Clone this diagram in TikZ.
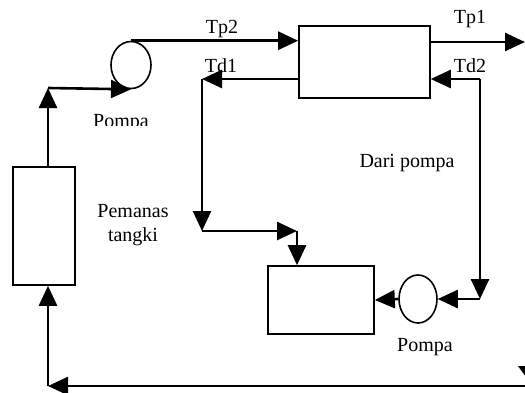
\documentclass[tikz,border=0pt]{standalone}
\usepackage{fontspec}
\setmainfont{Liberation Serif}
\usetikzlibrary{arrows.meta,shapes.geometric}
\tikzset{
  box/.style={draw,line width=1.6pt,rectangle,inner sep=0pt},
  pumpshape/.style={draw,line width=1.6pt,ellipse,inner sep=0pt},
  flow/.style={line width=2.6pt,-{Triangle[length=20pt,width=18pt]}},
  lbl/.style={font=\fontsize{20}{24}\selectfont,inner sep=0pt,anchor=base}
}
\begin{document}
\begin{tikzpicture}[x=1pt,y=-1pt]
\clip (0,0) rectangle (525,392);
\fill[white] (0,0) rectangle (525,392);
% nodes
\node[box,minimum width=131pt,minimum height=72pt] (hx) at (364.5,62) {};
\node[box,minimum width=106pt,minimum height=68pt] (tank) at (321,300) {};
\node[box,minimum width=62pt,minimum height=118pt] (heater) at (44,226) {};
\node[pumpshape,minimum width=40pt,minimum height=47pt] (p1) at (131,65) {};
\node[pumpshape,minimum width=38pt,minimum height=48pt] (p2) at (418,299) {};
% corner coordinates
\coordinate (tpend) at (525,42);
\coordinate (c2) at (480,79);
\coordinate (c3) at (480,299);
\coordinate (d1) at (202,79);
\coordinate (d2) at (202,231);
\coordinate (d3) at (297,231);
\coordinate (h1) at (48,88);
\coordinate (b1) at (530,386);
\coordinate (b2) at (48,386);
% connectors
\draw[flow] (p1.north) -- (p1.north -| hx.west);
\draw[flow] (hx.east |- tpend) -- (tpend);
\draw[flow] (c2) -- (c2 -| hx.east);
\draw[flow] (c2) -- (c3);
\draw[flow] (c3) -- (p2.east);
\draw[flow] (p2.west) -- (tank.east);
\draw[flow] (d1 -| hx.west) -- (d1);
\draw[flow] (d1) -- (d2);
\draw[flow] (d2) -- (d3);
\draw[flow] (d3) -- (d3 |- tank.north);
\draw[flow] (h1 |- heater.north) -- (h1);
\draw[flow] (h1) -- (p1.south);
\draw[flow] (b1) -- (b2);
\draw[flow] (b2) -- (b2 |- heater.south);
% clipped arrowhead at bottom right
\fill (518,366) -- (534,366) -- (526,377) -- cycle;
% labels
\node[lbl] (ltp2) at (222,33) {Tp2};
\node[lbl] (ltp1) at (470,23) {Tp1};
\node[lbl] (ltd2) at (470,72) {Td2};
\node[lbl] (ltd1) at (221,72) {Td1};
\node[lbl] (ldari) at (407,167) {Dari pompa};
\node[lbl] (lpompa2) at (425,351) {Pompa};
\node[font=\fontsize{20}{24}\selectfont,align=center,inner sep=0pt] (lpem) at (133,225) {Pemanas\\tangki};
\begin{scope}
\clip (80,100) rectangle (170,125);
\node[lbl] (lpompa1) at (121,127) {Pompa};
\end{scope}
\end{tikzpicture}
\end{document}
